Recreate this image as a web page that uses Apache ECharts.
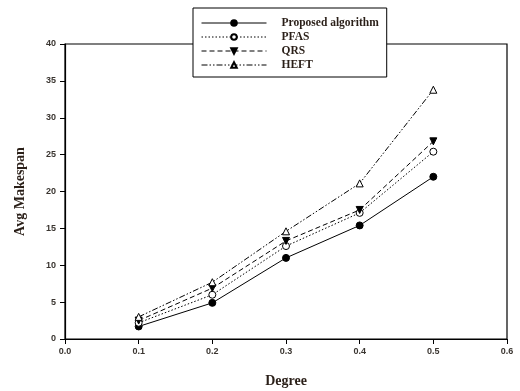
<!DOCTYPE html>
<html>
<head>
<meta charset="utf-8">
<script src="https://cdn.jsdelivr.net/npm/echarts@6/dist/echarts.min.js"></script>
<style>html,body{margin:0;padding:0;background:#fff;}#c{width:520px;height:391px;}</style>
</head>
<body>
<div id="c"></div>
<script>
var degrees = [0.1, 0.2, 0.3, 0.4, 0.5];
var seriesNames = ['Proposed algorithm', 'PFAS', 'QRS', 'HEFT'];
var proposed = [1.7, 4.9, 11.0, 15.4, 22.0];
var pfas = [2.2, 6.0, 12.6, 17.1, 25.4];
var qrs = [2.5, 6.9, 13.3, 17.5, 26.8];
var heft = [3.0, 7.7, 14.6, 21.1, 33.8];

function pairs(vals){ return degrees.map(function(d,i){ return [d, vals[i]]; }); }

var chart = echarts.init(document.getElementById('c'), null, {renderer:'canvas'});
var tickFont = {fontFamily:'Liberation Sans', fontSize:9, fontWeight:'bold', color:'#3a3530'};
var titleFont = {fontFamily:'Liberation Serif', fontSize:14, fontWeight:'bold', color:'#2a1f18'};

function mk(name, vals, symbol, filled, dash, rotate){
  return {
    name: name, type:'line', data: pairs(vals),
    symbol: symbol, symbolSize: 7, symbolRotate: rotate || 0, showAllSymbol:true,
    lineStyle:{color:'#000', width:1, type: dash},
    itemStyle:{color: filled ? '#000' : '#fff', borderColor:'#000', borderWidth:1},
    emphasis:{disabled:true}, animation:false, z:3
  };
}

chart.setOption({
  animation:false,
  backgroundColor:'#fff',
  grid:{left:65, right:13, top:44, bottom:52, show:true, borderColor:'#000', borderWidth:1.2,
        backgroundColor:'transparent', containLabel:false, outerBoundsMode:'none'},
  legend:{
    left:193, top:8, orient:'vertical',
    backgroundColor:'#fff', borderColor:'#000', borderWidth:1,
    padding:[9,8,6,8], itemWidth:65, itemHeight:7, itemGap:2,
    lineStyle:{width:1},
    textStyle:{fontFamily:'Liberation Serif', fontSize:11.5, fontWeight:'bold', color:'#2a1f18', padding:[0,0,0,10]},
    data: seriesNames, z:10
  },
  xAxis:{
    type:'value', min:0, max:0.6, interval:0.1,
    name:'Degree', nameLocation:'middle', nameGap:35, nameMoveOverlap:false, nameTextStyle:titleFont,
    axisLine:{show:true, onZero:false, lineStyle:{color:'#000', width:1.2}},
    axisTick:{show:true, inside:false, length:5, lineStyle:{color:'#000'}},
    axisLabel:Object.assign({margin:8, formatter:function(v){return v.toFixed(1);}}, tickFont),
    splitLine:{show:false}
  },
  yAxis:{
    type:'value', min:0, max:40, interval:5,
    name:'Avg Makespan', nameLocation:'middle', nameGap:38, nameMoveOverlap:false, nameTextStyle:titleFont,
    axisLine:{show:true, onZero:false, lineStyle:{color:'#000', width:1.2}},
    axisTick:{show:true, inside:false, length:5, lineStyle:{color:'#000'}},
    axisLabel:Object.assign({margin:9}, tickFont),
    splitLine:{show:false}
  },
  series:[
    mk(seriesNames[0], proposed, 'circle', true, 'solid'),
    mk(seriesNames[1], pfas, 'circle', false, [1.5,2]),
    mk(seriesNames[2], qrs, 'triangle', true, [5,3], 180),
    mk(seriesNames[3], heft, 'triangle', false, [6,2,1.5,2,1.5,2])
  ]
});
</script>
</body>
</html>
